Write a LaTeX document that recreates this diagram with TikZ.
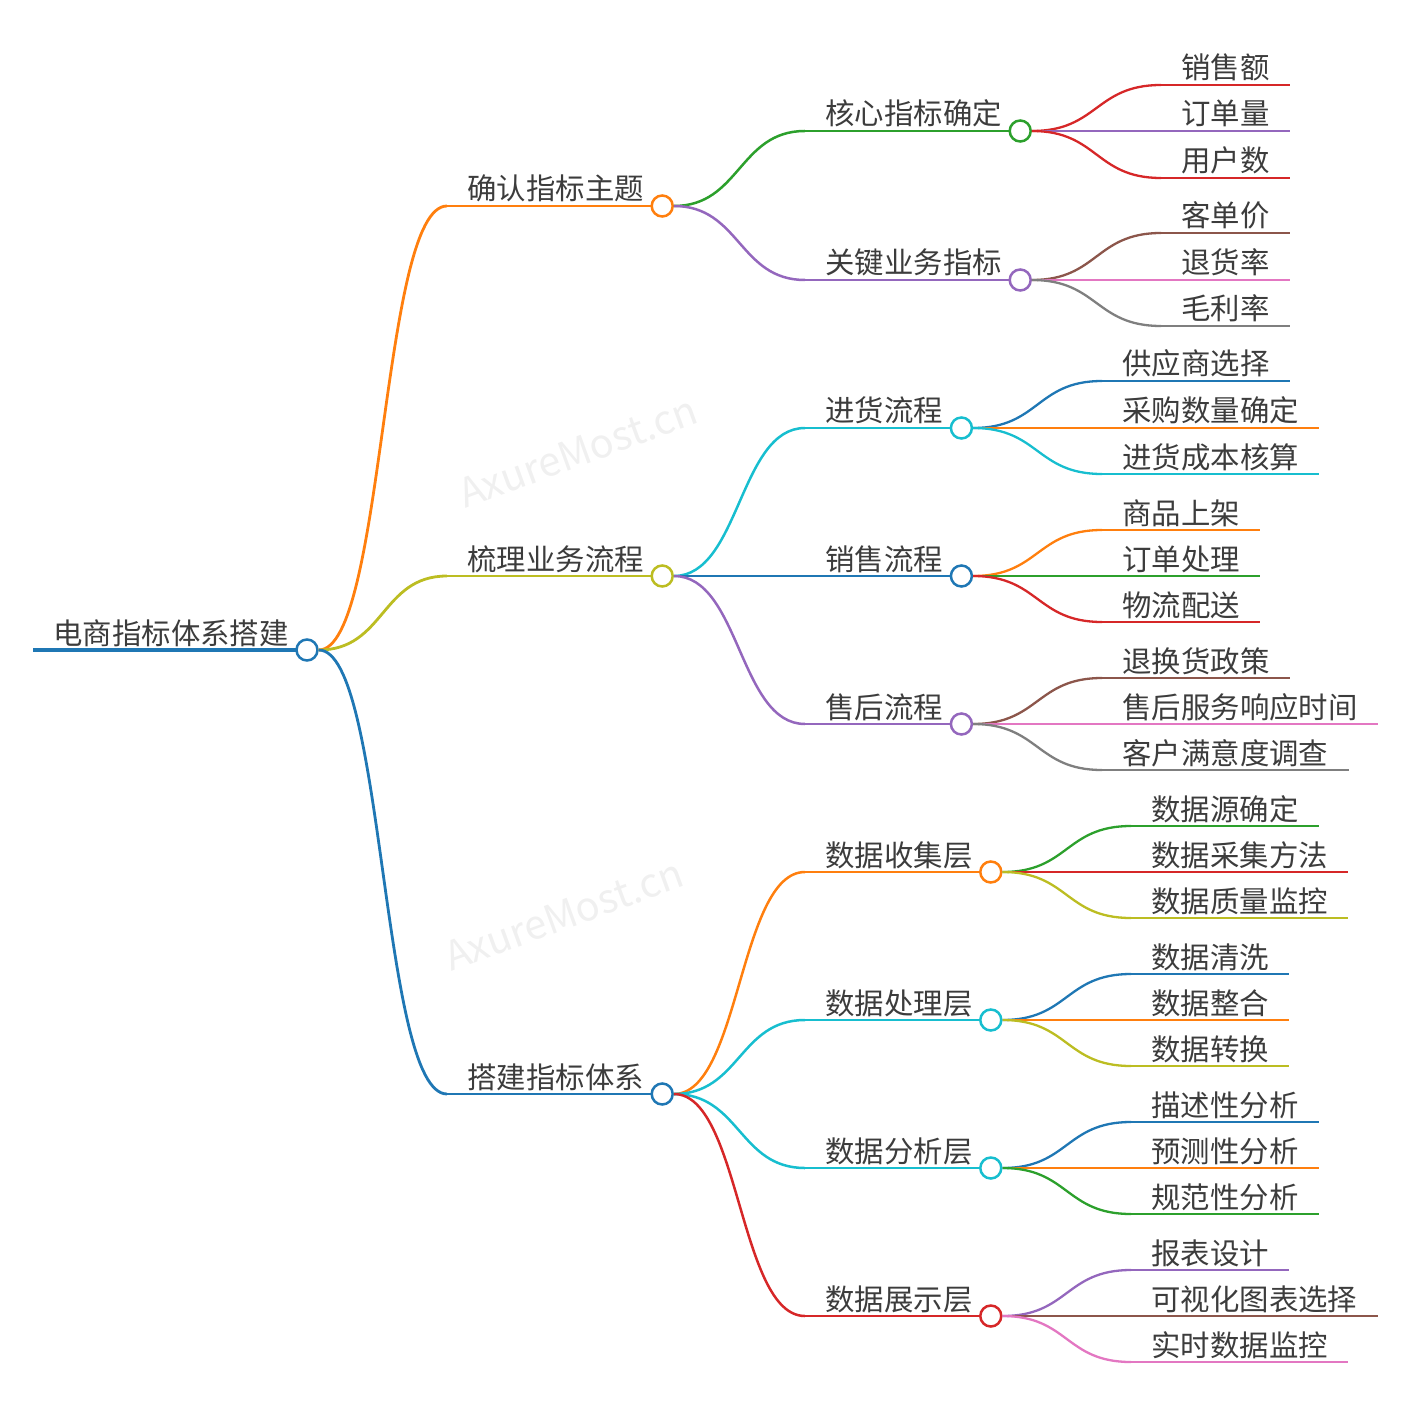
\documentclass[tikz,border=0pt]{standalone}
\usepackage{fontspec}
\newfontfamily\cjk{Noto Sans CJK SC}
\usetikzlibrary{calc}

\definecolor{mblue}{HTML}{1F77B4}
\definecolor{morange}{HTML}{FF7F0E}
\definecolor{mgreen}{HTML}{2CA02C}
\definecolor{mred}{HTML}{D62728}
\definecolor{mpurple}{HTML}{9467BD}
\definecolor{mbrown}{HTML}{8C564B}
\definecolor{mpink}{HTML}{E377C2}
\definecolor{mgray}{HTML}{7F7F7F}
\definecolor{molive}{HTML}{BCBD22}
\definecolor{mcyan}{HTML}{17BECF}
\definecolor{txtgray}{HTML}{3C3C3C}

\tikzset{
	lbl/.style={font=\cjk\fontsize{14.7}{16}\selectfont, text=txtgray,
		inner sep=0pt, anchor=base west},
	dot/.style={circle, draw=#1, fill=white, line width=1.25pt,
		minimum size=10.5pt, inner sep=0pt},
	w0/.style={line width=1.6pt},
	w1/.style={line width=1.4pt},
	w2/.style={line width=1.25pt},
	w3/.style={line width=1.15pt},
	wmark/.style={font=\cjk\fontsize{20}{22}\selectfont, text=black!6, rotate=20}
}

% inner node: name, start x, y, colour, width, text
\newcommand\mmnode[6]{%
	\coordinate (#1-s) at (#2,#3);
	\node[lbl] (#1) at ($(#1-s)+(20,-6)$) {#6};
	\draw[#4, #5] (#1-s) -- ($(#1.base east |- #1-s)+(7,0)$);
	\node[dot=#4] (#1-c) at ($(#1.base east |- #1-s)+(18,0)$) {};
}
% leaf: name, start x, y, colour, width, text
\newcommand\mmleaf[6]{%
	\coordinate (#1-s) at (#2,#3);
	\node[lbl] (#1) at ($(#1-s)+(20,-6)$) {#6};
	\draw[#4, #5] (#1-s) -- ($(#1.base east |- #1-s)+(20,0)$);
}
% link from parent circle to child start
\newcommand\mmlink[3]{%
	\draw[#3] (#1-c.east) .. controls +(66,0) and +(-66,0) .. (#2-s);
}

\begin{document}
\begin{tikzpicture}[x=0.5pt, y=-0.5pt]
	\useasboundingbox (0,0) rectangle (1411,1411);
	
	% watermarks
	\node[wmark] (wm1) at (578,452) {AxureMost.cn};
	\node[wmark] (wm2) at (564,915) {AxureMost.cn};
	
	% root and level 1
	\mmnode{root}{33}{650}{mblue}{w0}{电商指标体系搭建}
	\mmnode{t1}{447}{206}{morange}{w1}{确认指标主题}
	\mmnode{t2}{447}{576}{molive}{w1}{梳理业务流程}
	\mmnode{t3}{447}{1094}{mblue}{w1}{搭建指标体系}
	\mmlink{root}{t1}{morange, w1}
	\mmlink{root}{t2}{molive, w1}
	\mmlink{root}{t3}{mblue, w1}
	
	% level 2
	\mmnode{a1}{805}{131}{mgreen}{w2}{核心指标确定}
	\mmnode{a2}{805}{280}{mpurple}{w2}{关键业务指标}
	\mmnode{b1}{805}{428}{mcyan}{w2}{进货流程}
	\mmnode{b2}{805}{576}{mblue}{w2}{销售流程}
	\mmnode{b3}{805}{724}{mpurple}{w2}{售后流程}
	\mmnode{c1}{805}{872}{morange}{w2}{数据收集层}
	\mmnode{c2}{805}{1020}{mcyan}{w2}{数据处理层}
	\mmnode{c3}{805}{1168}{mcyan}{w2}{数据分析层}
	\mmnode{c4}{805}{1316}{mred}{w2}{数据展示层}
	\mmlink{t1}{a1}{mgreen, w2}
	\mmlink{t1}{a2}{mpurple, w2}
	\mmlink{t2}{b1}{mcyan, w2}
	\mmlink{t2}{b2}{mblue, w2}
	\mmlink{t2}{b3}{mpurple, w2}
	\mmlink{t3}{c1}{morange, w2}
	\mmlink{t3}{c2}{mcyan, w2}
	\mmlink{t3}{c3}{mcyan, w2}
	\mmlink{t3}{c4}{mred, w2}
	
	% level 3
	\mmleaf{a11}{1161}{85}{mred}{w3}{销售额}
	\mmleaf{a12}{1161}{131}{mpurple}{w3}{订单量}
	\mmleaf{a13}{1161}{178}{mred}{w3}{用户数}
	\mmleaf{a21}{1161}{233}{mbrown}{w3}{客单价}
	\mmleaf{a22}{1161}{280}{mpink}{w3}{退货率}
	\mmleaf{a23}{1161}{326}{mgray}{w3}{毛利率}
	\mmleaf{b11}{1102}{381}{mblue}{w3}{供应商选择}
	\mmleaf{b12}{1102}{428}{morange}{w3}{采购数量确定}
	\mmleaf{b13}{1102}{474}{mcyan}{w3}{进货成本核算}
	\mmleaf{b21}{1102}{530}{morange}{w3}{商品上架}
	\mmleaf{b22}{1102}{576}{mgreen}{w3}{订单处理}
	\mmleaf{b23}{1102}{622}{mred}{w3}{物流配送}
	\mmleaf{b31}{1102}{678}{mbrown}{w3}{退换货政策}
	\mmleaf{b32}{1102}{724}{mpink}{w3}{售后服务响应时间}
	\mmleaf{b33}{1102}{770}{mgray}{w3}{客户满意度调查}
	\mmleaf{c11}{1131}{826}{mgreen}{w3}{数据源确定}
	\mmleaf{c12}{1131}{872}{mred}{w3}{数据采集方法}
	\mmleaf{c13}{1131}{918}{molive}{w3}{数据质量监控}
	\mmleaf{c21}{1131}{974}{mblue}{w3}{数据清洗}
	\mmleaf{c22}{1131}{1020}{morange}{w3}{数据整合}
	\mmleaf{c23}{1131}{1066}{molive}{w3}{数据转换}
	\mmleaf{c31}{1131}{1122}{mblue}{w3}{描述性分析}
	\mmleaf{c32}{1131}{1168}{morange}{w3}{预测性分析}
	\mmleaf{c33}{1131}{1214}{mgreen}{w3}{规范性分析}
	\mmleaf{c41}{1131}{1270}{mpurple}{w3}{报表设计}
	\mmleaf{c42}{1131}{1316}{mbrown}{w3}{可视化图表选择}
	\mmleaf{c43}{1131}{1362}{mpink}{w3}{实时数据监控}
	\foreach \p/\c/\col in {a1/a11/mred, a1/a12/mpurple, a1/a13/mred,
		a2/a21/mbrown, a2/a22/mpink, a2/a23/mgray,
		b1/b11/mblue, b1/b12/morange, b1/b13/mcyan,
		b2/b21/morange, b2/b22/mgreen, b2/b23/mred,
		b3/b31/mbrown, b3/b32/mpink, b3/b33/mgray,
		c1/c11/mgreen, c1/c12/mred, c1/c13/molive,
		c2/c21/mblue, c2/c22/morange, c2/c23/molive,
		c3/c31/mblue, c3/c32/morange, c3/c33/mgreen,
		c4/c41/mpurple, c4/c42/mbrown, c4/c43/mpink}
		{\mmlink{\p}{\c}{\col, w3}}
\end{tikzpicture}
\end{document}
